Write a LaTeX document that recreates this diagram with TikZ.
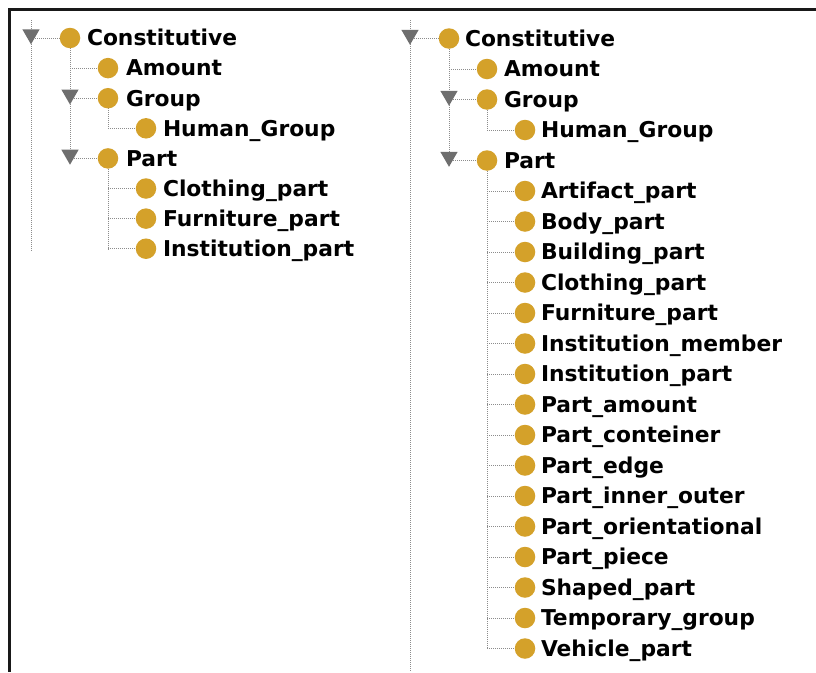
\documentclass[tikz,border=0pt]{standalone}
\usepackage{fontspec}
\setmainfont{DejaVu Sans}
\usetikzlibrary{shapes.geometric,backgrounds}
\definecolor{classgold}{RGB}{212,161,42}
\definecolor{handlegray}{RGB}{110,110,110}
\definecolor{linegray}{RGB}{140,140,140}
\tikzset{
  cls/.style={circle, fill=classgold, minimum size=20.5pt, inner sep=0pt, outer sep=0pt},
  handle/.style={regular polygon, regular polygon sides=3, shape border rotate=180,
    fill=handlegray, minimum size=20pt, inner sep=0pt, outer sep=0pt},
  lbl/.style={anchor=base west, inner sep=0pt, outer sep=0pt,
    font=\fontsize{21.8}{24}\selectfont\bfseries},
  guide/.style={draw=linegray, line width=1pt, dash pattern=on 1pt off 1pt},
  frameline/.style={draw=black!90, line width=2.2pt},
}
\begin{document}
\begin{tikzpicture}[x=1pt,y=-1pt]
\useasboundingbox (0,0) rectangle (816,672);
\draw[frameline] (816,9.5) -- (9.5,9.5) -- (9.5,672);

% ---------------- left tree ----------------
\coordinate (L-top) at (31,20);
\coordinate (L-end) at (31,252);
\node[cls] (L-con) at (70,38) {};
\node[lbl] (L-con-t) at (87,45.8) {Constitutive};
\node[cls] (L-amo) at (108,68.1) {};
\node[lbl] (L-amo-t) at (126,75.9) {Amount};
\node[cls] (L-gro) at (108,98.2) {};
\node[lbl] (L-gro-t) at (126,106) {Group};
\node[cls] (L-hum) at (146,128.3) {};
\node[lbl] (L-hum-t) at (163,136.1) {Human\_Group};
\node[cls] (L-par) at (108,158.4) {};
\node[lbl] (L-par-t) at (126,166.2) {Part};
\node[cls] (L-clo) at (146,188.5) {};
\node[lbl] (L-clo-t) at (163,196.3) {Clothing\_part};
\node[cls] (L-fur) at (146,218.6) {};
\node[lbl] (L-fur-t) at (163,226.4) {Furniture\_part};
\node[cls] (L-ins) at (146,248.7) {};
\node[lbl] (L-ins-t) at (163,256.5) {Institution\_part};
\node[handle] (L-con-h) at (31,34.3) {};
\node[handle] (L-gro-h) at (70,94.5) {};
\node[handle] (L-par-h) at (70,154.7) {};

\begin{scope}[on background layer]
  \fill[white] (0,0) rectangle (816,672);
  \draw[guide] (L-top) -- (L-end);
  \draw[guide] (L-con-h.center |- L-con) -- (L-con.west);
  \draw[guide] (L-con.south) -- (L-con.south |- L-par);
  \draw[guide] (L-con.center |- L-amo) -- (L-amo.west);
  \draw[guide] (L-con.center |- L-gro) -- (L-gro.west);
  \draw[guide] (L-con.center |- L-par) -- (L-par.west);
  \draw[guide] (L-gro.south) -- (L-gro.south |- L-hum);
  \draw[guide] (L-gro.center |- L-hum) -- (L-hum.west);
  \draw[guide] (L-par.south) -- (L-par.south |- L-ins);
  \foreach \c in {clo,fur,ins}
    \draw[guide] (L-par.center |- L-\c) -- (L-\c.west);
\end{scope}

% ---------------- right tree ----------------
\coordinate (R-top) at (410,20);
\coordinate (R-end) at (410,672);
\node[cls] (R-con) at (449,38.5) {};
\node[lbl] (R-con-t) at (465,46.3) {Constitutive};
\node[cls] (R-amo) at (487,69) {};
\node[lbl] (R-amo-t) at (504,76.8) {Amount};
\node[cls] (R-gro) at (487,99.5) {};
\node[lbl] (R-gro-t) at (504,107.3) {Group};
\node[cls] (R-hum) at (525,130) {};
\node[lbl] (R-hum-t) at (541,137.8) {Human\_Group};
\node[cls] (R-par) at (487,160.5) {};
\node[lbl] (R-par-t) at (504,168.3) {Part};
\foreach \name [count=\i] in {Artifact\_part, Body\_part, Building\_part, Clothing\_part,
    Furniture\_part, Institution\_member, Institution\_part, Part\_amount,
    Part\_conteiner, Part\_edge, Part\_inner\_outer, Part\_orientational,
    Part\_piece, Shaped\_part, Temporary\_group, Vehicle\_part} {
  \node[cls] (R-p\i) at (525,{160.5+30.5*\i}) {};
  \node[lbl] (R-p\i-t) at (541,{168.3+30.5*\i}) {\name};
}
\node[handle] (R-con-h) at (410,34.8) {};
\node[handle] (R-gro-h) at (449,95.8) {};
\node[handle] (R-par-h) at (449,156.8) {};

\begin{scope}[on background layer]
  \draw[guide] (R-top) -- (R-end);
  \draw[guide] (R-con-h.center |- R-con) -- (R-con.west);
  \draw[guide] (R-con.south) -- (R-con.south |- R-par);
  \draw[guide] (R-con.center |- R-amo) -- (R-amo.west);
  \draw[guide] (R-con.center |- R-gro) -- (R-gro.west);
  \draw[guide] (R-con.center |- R-par) -- (R-par.west);
  \draw[guide] (R-gro.south) -- (R-gro.south |- R-hum);
  \draw[guide] (R-gro.center |- R-hum) -- (R-hum.west);
  \draw[guide] (R-par.south) -- (R-par.south |- R-p16);
  \foreach \i in {1,...,16}
    \draw[guide] (R-par.center |- R-p\i) -- (R-p\i.west);
\end{scope}
\end{tikzpicture}
\end{document}
